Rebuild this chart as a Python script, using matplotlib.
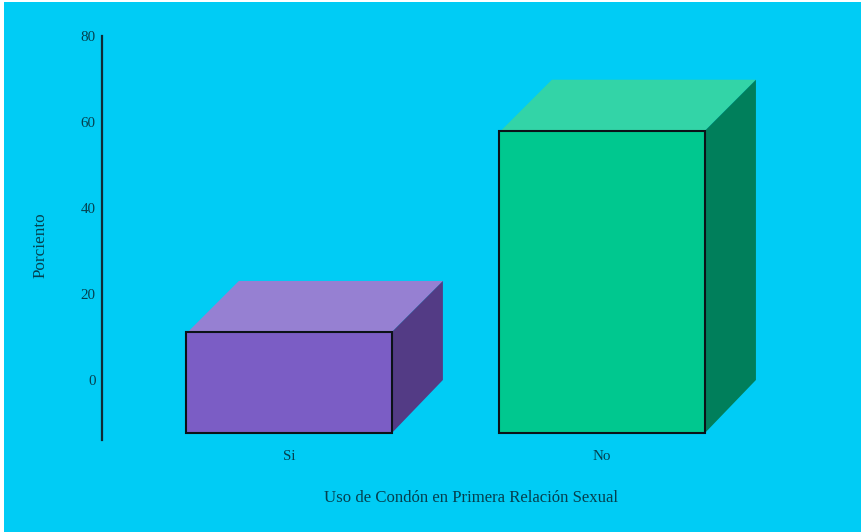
import matplotlib
matplotlib.use("Agg")
import matplotlib.pyplot as plt
from matplotlib.patches import Polygon, Rectangle
from matplotlib.transforms import ScaledTranslation

categories = ["Si", "No"]
porcentajes = [23.5, 70.3]
y_ticks = [0, 20, 40, 60, 80]
front_colors = ["#7B5DC5", "#00C88F"]
top_colors = ["#9680D2", "#33D4A7"]
side_colors = ["#533B85", "#007F5B"]

W, H = 862, 532
BG = "#00CCF5"
TEXT = "#05404f"

fig = plt.figure(figsize=(W / 100, H / 100), dpi=100, facecolor="white")
plt.rcParams["font.family"] = "Liberation Serif"

# Blue panel behind the chart
fig.patches.append(Rectangle((4 / W, 0), 1 - 4 / W, 1 - 2 / H, zorder=-5,
                             transform=fig.transFigure, facecolor=BG, edgecolor="none"))

# Axes spans the vertical rule, from px 36 to px 440
ax = fig.add_axes([102 / W, 1 - 440 / H, (760 - 102) / W, (440 - 36) / H])
ax.patch.set_alpha(0)
ax.set_ylim(-13.49, 80.47)
ax.set_xlim(-0.597, 1.505)

bar_width = 206 / 313
depth_x = 51 / 313
depth_y = 11.86
top_inset = 0.0064    # the top face starts just inside the front corner
back_rise = 0.47      # rear floor edge sits a touch higher than the zero line

for i, (cat, v) in enumerate(zip(categories, porcentajes)):
    x0 = i - bar_width / 2
    x1 = i + bar_width / 2
    base = -depth_y
    top = v - depth_y
    ax.add_patch(Polygon([(x0 + top_inset, top), (x1, top), (x1 + depth_x, v),
                          (x0 + depth_x + top_inset, v)],
                         closed=True, facecolor=top_colors[i], edgecolor="none", zorder=2))
    ax.add_patch(Polygon([(x1, base), (x1 + depth_x, back_rise), (x1 + depth_x, v), (x1, top)],
                         closed=True, facecolor=side_colors[i], edgecolor="none", zorder=2))
    ax.bar(i, v, width=bar_width, bottom=base, color=front_colors[i],
           edgecolor="#0b1218", linewidth=1.5, zorder=3)

for s in ("top", "right", "bottom"):
    ax.spines[s].set_visible(False)
ax.spines["left"].set_linewidth(1.6)
ax.spines["left"].set_color("#0f2a35")

ax.set_yticks(y_ticks)
ax.tick_params(axis="y", length=0, pad=4.5, labelsize=10.8, labelcolor=TEXT)
# Value labels sit slightly above their gridline position
lift = ScaledTranslation(0, 2 / 100, fig.dpi_scale_trans)
for lab in ax.get_yticklabels():
    lab.set_transform(lab.get_transform() + lift)
ax.set_xticks(range(len(categories)))
ax.set_xticklabels(categories)
ax.tick_params(axis="x", length=0, pad=7.5, labelsize=10.8, labelcolor=TEXT)

fig.text(471.5 / W, 1 - 498 / H, "Uso de Condón en Primera Relación Sexual",
         ha="center", va="center", fontsize=12.1, color=TEXT)
fig.text(40.5 / W, 1 - 245 / H, "Porciento", rotation=90,
         ha="center", va="center", fontsize=12.3, color=TEXT)

fig.savefig("out.png", dpi=100, facecolor="white")
